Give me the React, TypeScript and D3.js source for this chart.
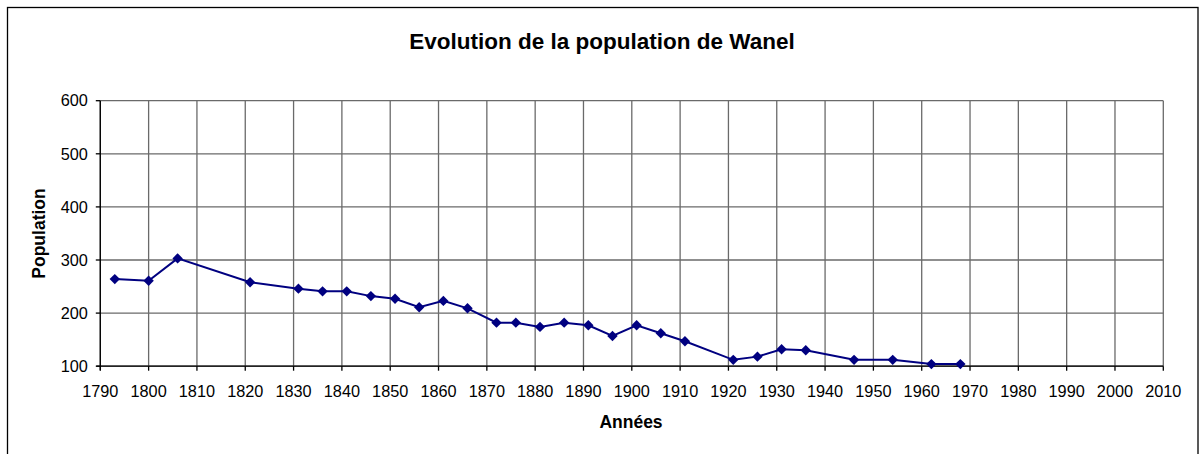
import React from "react";
import * as d3 from "d3";

const years = [1793, 1800, 1806, 1821, 1831, 1836, 1841, 1846, 1851, 1856, 1861, 1866, 1872, 1876, 1881, 1886, 1891, 1896, 1901, 1906, 1911, 1921, 1926, 1931, 1936, 1946, 1954, 1962, 1968];
const population = [264, 261, 303, 258, 246, 241, 241, 232, 227, 211, 223, 209, 182, 182, 174, 182, 177, 157, 177, 162, 147, 112, 118, 132, 130, 112, 112, 104, 104];
const xTicks = d3.range(1790, 2011, 10);
const yTicks = [100, 200, 300, 400, 500, 600];
const title = "Evolution de la population de Wanel";
const xLabel = "Années";
const yLabel = "Population";

export default function App() {
  const W = 1199, H = 454;
  const left = 100.3, right = 1163.3, top = 100.7, bottom = 366.2;
  const x = d3.scaleLinear().domain([1790, 2010]).range([left, right]);
  const y = d3.scaleLinear().domain([100, 600]).range([bottom, top]);
  const data = years.map((yr, i) => ({ yr, v: population[i] }));
  const line = d3.line<{ yr: number; v: number }>().x(d => x(d.yr)).y(d => y(d.v));
  const font = "'Liberation Sans', Arial, sans-serif";
  const diamond = (cx: number, cy: number, r: number) => `M${cx},${cy - r}L${cx + r},${cy}L${cx},${cy + r}L${cx - r},${cy}Z`;
  return (
    <svg width={W} height={H} style={{ position: "absolute", left: 0, top: 0 }} fontFamily={font}>
      <rect x={0} y={0} width={W} height={H} fill="#fff" />
      <rect x={7.5} y={7.5} width={1190.5} height={470} fill="none" stroke="#000" strokeWidth={1.3} />
      <text x={602} y={49} textAnchor="middle" fontSize={22.5} fontWeight="bold">{title}</text>
      {/* grid */}
      {xTicks.map(t => (
        <line key={"gx" + t} x1={x(t)} x2={x(t)} y1={top} y2={bottom} stroke="#6a6a6a" strokeWidth={1.3} />
      ))}
      {yTicks.map(t => (
        <line key={"gy" + t} x1={left} x2={right} y1={y(t)} y2={y(t)} stroke="#6a6a6a" strokeWidth={1.3} />
      ))}
      {/* axes */}
      <line x1={left} x2={left} y1={top} y2={bottom + 4} stroke="#000" strokeWidth={1.3} />
      <line x1={left - 4} x2={right} y1={bottom} y2={bottom} stroke="#000" strokeWidth={1.3} />
      {yTicks.map(t => (
        <g key={"yt" + t}>
          <line x1={left - 4.5} x2={left} y1={y(t)} y2={y(t)} stroke="#000" strokeWidth={1.3} />
          <text x={left - 12.5} y={y(t)} dy="0.35em" textAnchor="end" fontSize={16.3}>{t}</text>
        </g>
      ))}
      {xTicks.map(t => (
        <g key={"xt" + t}>
          <line x1={x(t)} x2={x(t)} y1={bottom} y2={bottom + 4.5} stroke="#000" strokeWidth={1.3} />
          <text x={x(t)} y={396.7} textAnchor="middle" fontSize={16.3}>{t}</text>
        </g>
      ))}
      <text x={631} y={427.7} textAnchor="middle" fontSize={17.5} fontWeight="bold">{xLabel}</text>
      <text transform={`translate(45,233.5) rotate(-90)`} textAnchor="middle" fontSize={17.5} fontWeight="bold">{yLabel}</text>
      <path d={line(data) || ""} fill="none" stroke="#000080" strokeWidth={2} />
      {data.map(d => (
        <path key={"m" + d.yr} d={diamond(x(d.yr), y(d.v), 5.2)} fill="#000080" />
      ))}
    </svg>
  );
}
